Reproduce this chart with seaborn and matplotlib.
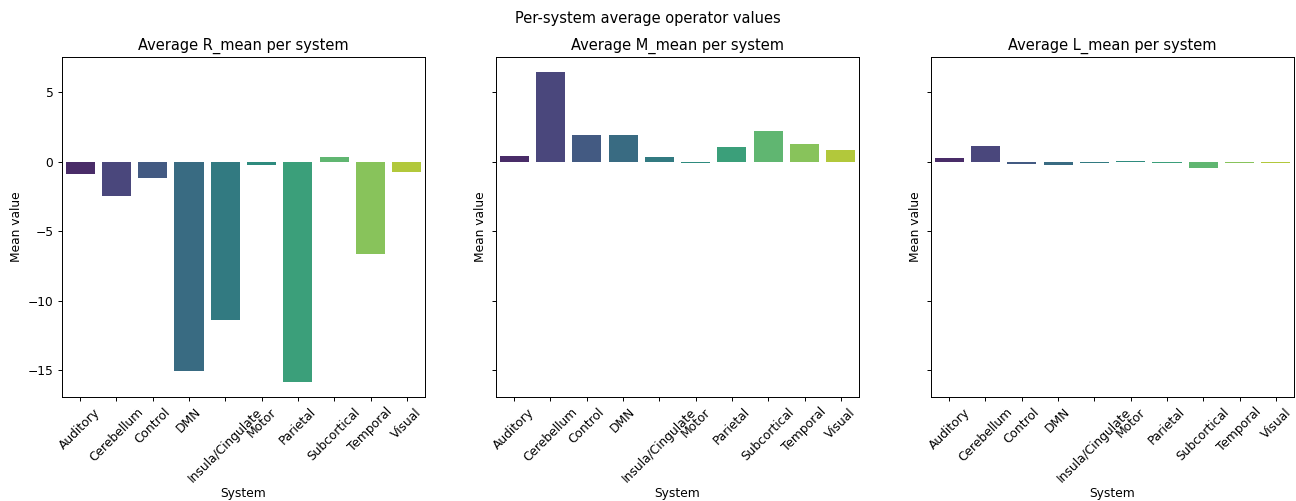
import matplotlib
matplotlib.use("Agg")
import matplotlib.pyplot as plt
import seaborn as sns
import pandas as pd

systems = ["Auditory", "Cerebellum", "Control", "DMN", "Insula/Cingulate",
           "Motor", "Parietal", "Subcortical", "Temporal", "Visual"]
R_mean = [-0.91, -2.50, -1.20, -15.05, -11.37, -0.20, -15.84, 0.36, -6.68, -0.77]
M_mean = [0.41, 6.44, 1.91, 1.90, 0.33, -0.10, 1.05, 2.20, 1.27, 0.84]
L_mean = [0.30, 1.16, -0.13, -0.20, -0.07, 0.09, -0.07, -0.42, -0.07, -0.07]

df = pd.DataFrame({"System": systems, "R_mean": R_mean, "M_mean": M_mean, "L_mean": L_mean})

DPI = 88
fig = plt.figure(figsize=(1296 / DPI, 501 / DPI), dpi=DPI)
h = 0.6786
b = 0.2076
w = 0.2801
ax1 = fig.add_axes([0.0478, b, w, h])
ax2 = fig.add_axes([0.3827, b, w, h], sharey=ax1)
ax3 = fig.add_axes([0.7184, b, w, h], sharey=ax1)

for ax, col in zip([ax1, ax2, ax3], ["R_mean", "M_mean", "L_mean"]):
    sns.barplot(data=df, x="System", y=col, hue="System", palette="viridis",
                legend=False, ax=ax)
    ax.set_title(f"Average {col} per system")
    ax.set_xlabel("System", labelpad=2)
    ax.set_ylabel("Mean value")
    ax.tick_params(axis="x", rotation=45)

for ax in [ax2, ax3]:
    plt.setp(ax.get_yticklabels(), visible=False)

fig.suptitle("Per-system average operator values", y=0.964, va="center")
fig.savefig("out.png", dpi=DPI)
